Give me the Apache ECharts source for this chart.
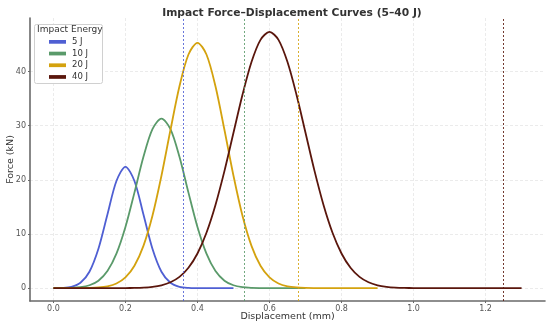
<!DOCTYPE html>
<html>
<head>
<meta charset="utf-8">
<script src="https://cdn.jsdelivr.net/npm/echarts@6/dist/echarts.min.js"></script>
<style>html,body{margin:0;padding:0;background:#fff}#c{width:550px;height:325px}</style>
</head>
<body>
<div id="c"></div>
<script>
// ---- data ----
const xTicks = [0.0, 0.2, 0.4, 0.6, 0.8, 1.0, 1.2];
const yTicks = [0, 10, 20, 30, 40];
const seriesNames = ['5 J', '10 J', '20 J', '40 J'];

const x5 = [0,0.025,0.05,0.075,0.1,0.125,0.15,0.175,0.2,0.225,0.25,0.275,0.3,0.325,0.35,0.375,0.4,0.425,0.45,0.475,0.5];
const f5 = [0.0075,0.049,0.249,0.984,3.03,7.27,13.59,19.77,22.4,19.77,13.59,7.27,3.03,0.984,0.249,0.049,0.0075,0.001,0,0,0];

const x10 = [0,0.025,0.05,0.075,0.1,0.125,0.15,0.175,0.2,0.225,0.25,0.275,0.3,0.325,0.35,0.375,0.4,0.425,0.45,0.475,0.5,0.525,0.55,0.575,0.6,0.625,0.65,0.675,0.7];
const f10 = [0.0032,0.014,0.053,0.179,0.528,1.375,3.15,6.36,11.28,17.63,24.25,29.37,31.3,29.37,24.25,17.63,11.28,6.36,3.15,1.375,0.528,0.179,0.053,0.014,0.0032,0.0006,0.0001,0,0];

const x20 = [0,0.025,0.05,0.075,0.1,0.125,0.15,0.175,0.2,0.225,0.25,0.275,0.3,0.325,0.35,0.375,0.4,0.425,0.45,0.475,0.5,0.525,0.55,0.575,0.6,0.625,0.65,0.675,0.7,0.725,0.75,0.775,0.8,0.825,0.85,0.875,0.9];
const f20 = [0.0002,0.0008,0.0032,0.0118,0.040,0.123,0.343,0.868,1.99,4.14,7.81,13.36,20.74,29.19,37.26,43.14,45.3,43.14,37.26,29.19,20.74,13.36,7.81,4.14,1.99,0.868,0.343,0.123,0.040,0.0118,0.0032,0.0008,0.0002,0,0,0,0];

const x40 = [0,0.025,0.05,0.075,0.1,0.125,0.15,0.175,0.2,0.225,0.25,0.275,0.3,0.325,0.35,0.375,0.4,0.425,0.45,0.475,0.5,0.525,0.55,0.575,0.6,0.625,0.65,0.675,0.7,0.725,0.75,0.775,0.8,0.825,0.85,0.875,0.9,0.925,0.95,0.975,1.0,1.05,1.1,1.15,1.2,1.25,1.3];
const f40 = [0,0,0,0.0001,0.0002,0.0006,0.0019,0.0057,0.016,0.042,0.103,0.241,0.526,1.078,2.08,3.76,6.40,10.23,15.36,21.65,28.69,35.70,41.74,45.84,47.3,45.84,41.74,35.70,28.69,21.65,15.36,10.23,6.40,3.76,2.08,1.078,0.526,0.241,0.103,0.042,0.016,0.0019,0.0002,0,0,0,0];

// vertical dashed markers (max displacement per energy)
const maxDisp = [0.362, 0.532, 0.678, 1.251];

const colors = ['#4f5fd3', '#5a9a6a', '#d4a20e', '#5a160c'];
const xs = [x5, x10, x20, x40];
const fs = [f5, f10, f20, f40];

const series = seriesNames.map((n, i) => ({
  name: n,
  type: 'line',
  data: xs[i].map((x, k) => [x, fs[i][k]]),
  showSymbol: false,
  smooth: 0.3,
  lineStyle: { color: colors[i], width: 1.8 },
  itemStyle: { color: colors[i] },
  z: 3,
  markLine: {
    silent: true,
    symbol: 'none',
    label: { show: false },
    lineStyle: { color: colors[i], type: [2, 2], width: 1, opacity: 0.85 },
    data: [{ xAxis: maxDisp[i] }]
  }
}));

const chart = echarts.init(document.getElementById('c'), null, { renderer: 'canvas' });
const FONT = 'DejaVu Sans';
chart.setOption({
  animation: false,
  backgroundColor: '#ffffff',
  textStyle: { fontFamily: FONT },
  title: {
    text: 'Impact Force\u2013Displacement Curves (5\u201340 J)',
    left: 287, top: 3, textAlign: 'center',
    textStyle: { fontFamily: FONT, fontSize: 10.7, fontWeight: 'bold', color: '#333333' }
  },
  grid: { left: 30, right: 5, top: 18, bottom: 24, containLabel: false, outerBoundsMode: 'none' },
  xAxis: {
    type: 'value', min: -0.065, max: 1.365,
    name: 'Displacement (mm)', nameLocation: 'middle', nameGap: 11, nameMoveOverlap: false,
    nameTextStyle: { fontFamily: FONT, fontSize: 9.5, color: '#333' },
    axisLine: { onZero: false, lineStyle: { color: '#6a6a6a', width: 1.6 } },
    axisTick: { show: true, length: 2, customValues: xTicks, lineStyle: { color: '#6a6a6a' } },
    axisLabel: { customValues: xTicks, fontSize: 8, color: '#555', margin: 3.5,
      formatter: v => v.toFixed(1) },
    splitLine: { show: true, lineStyle: { color: '#e6e6e6', width: 0.8, type: [3, 2] } }
  },
  yAxis: {
    type: 'value', min: -2.375, max: 49.875,
    name: 'Force (kN)', nameLocation: 'middle', nameGap: 14.5, nameRotate: 90, nameMoveOverlap: false,
    nameTextStyle: { fontFamily: FONT, fontSize: 9.5, color: '#333' },
    axisLine: { show: true, onZero: false, lineStyle: { color: '#6a6a6a', width: 1.6 } },
    axisTick: { show: true, length: 2, customValues: yTicks, lineStyle: { color: '#6a6a6a' } },
    axisLabel: { customValues: yTicks, fontSize: 8, color: '#555', margin: 4 },
    splitLine: { show: true, lineStyle: { color: '#e6e6e6', width: 0.8, type: [3, 2] } }
  },
  legend: {
    data: seriesNames,
    orient: 'vertical', left: 44, top: 31, z: 20,
    itemWidth: 17, itemHeight: 8, itemGap: 0,
    icon: 'path://M0,0 L1,0 L1,0.22 L0,0.22 Z',
    textStyle: { fontFamily: FONT, fontSize: 8.5, color: '#333', lineHeight: 11.7, padding: [0, 0, 0, 1] }
  },
  graphic: [
    { type: 'rect', left: 34, top: 24, shape: { width: 68, height: 59, r: 2 },
      style: { fill: '#fff', stroke: '#d0d0d0', lineWidth: 1 }, z: 5 },
    { type: 'text', left: 37, top: 25, z: 21,
      style: { text: 'Impact Energy', fontFamily: FONT, fontSize: 9, fill: '#333' } }
  ],
  series: series
});
</script>
</body>
</html>
